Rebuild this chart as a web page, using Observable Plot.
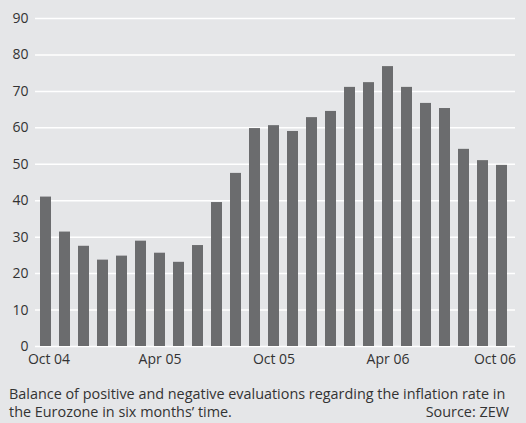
<!DOCTYPE html>
<html>
<head>
<meta charset="utf-8">
<script src="https://cdn.jsdelivr.net/npm/d3@7"></script>
<script src="https://cdn.jsdelivr.net/npm/@observablehq/plot@0.6"></script>
<style>
  html, body { margin: 0; padding: 0; background: #e5e6e8; }
  #wrap { width: 526px; font-family: "Open Sans", sans-serif; color: #333; }
  .cap { font-size: 14.4px; line-height: 18px; padding: 5px 17px 0 9px; white-space: nowrap; }
  .row { display: flex; justify-content: space-between; }
</style>
</head>
<body>
<div id="wrap">
  <div id="chart"></div>
  <div class="cap">
    <div>Balance of positive and negative evaluations regarding the inflation rate in</div>
    <div class="row"><span>the Eurozone in six months’ time.</span><span>Source: ZEW</span></div>
  </div>
</div>
<script>
const months = ["Oct 04","Nov 04","Dec 04","Jan 05","Feb 05","Mar 05","Apr 05","May 05","Jun 05","Jul 05","Aug 05","Sep 05","Oct 05","Nov 05","Dec 05","Jan 06","Feb 06","Mar 06","Apr 06","May 06","Jun 06","Jul 06","Aug 06","Sep 06","Oct 06"];
const values = [41.0,31.4,27.5,23.7,24.8,28.9,25.6,23.1,27.7,39.5,47.5,59.8,60.6,59.0,62.8,64.5,71.1,72.4,76.8,71.1,66.7,65.3,54.1,51.0,49.7];
const yTicks = [0,10,20,30,40,50,60,70,80,90];
const xLabels = ["Oct 04","Apr 05","Oct 05","Apr 06","Oct 06"];

const data = months.map((m, i) => ({month: m, value: values[i]}));

const chart = Plot.plot({
  width: 526,
  height: 380,
  marginLeft: 32,
  marginRight: 11,
  marginTop: 18,
  marginBottom: 34,
  style: {background: "transparent", fontFamily: "'Open Sans', sans-serif", fontSize: "14px", color: "#333"},
  x: {type: "band", domain: months, padding: 0.42, label: null},
  y: {domain: [0, 90], label: null},
  marks: [
    Plot.ruleY(yTicks, {stroke: "white", strokeWidth: 1.5, insetLeft: 3}),
    Plot.barY(data, {x: "month", y: "value", fill: "#6b6c6e"}),
    Plot.axisY({ticks: yTicks, tickSize: 0, tickPadding: 4, label: null, fill: "#333", fontSize: 14}),
    Plot.axisX({ticks: xLabels.slice(0, 1), tickSize: 0, tickPadding: 8, label: null, fill: "#333", fontSize: 14, dx: 3}),
    Plot.axisX({ticks: xLabels.slice(1, 4), tickSize: 0, tickPadding: 8, label: null, fill: "#333", fontSize: 14}),
    Plot.axisX({ticks: xLabels.slice(4), tickSize: 0, tickPadding: 8, label: null, fill: "#333", fontSize: 14, dx: -7})
  ]
});
document.getElementById("chart").appendChild(chart);
</script>
</body>
</html>
